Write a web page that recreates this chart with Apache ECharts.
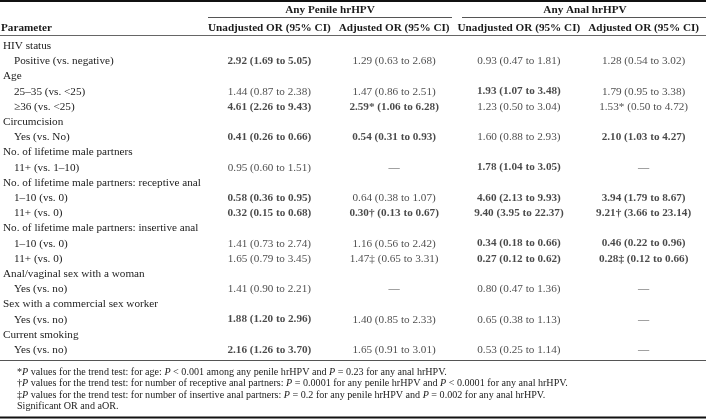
<!DOCTYPE html>
<html><head><meta charset="utf-8">
<script src="https://cdn.jsdelivr.net/npm/echarts@6/dist/echarts.min.js"></script>
<style>html,body{margin:0;padding:0;background:#fff}#c{width:706px;height:419px}</style>
</head><body><div id="c"></div>
<script>
// ---------- table content ----------
const groupHeaders = ['Any Penile hrHPV', 'Any Anal hrHPV'];
const columnHeaders = ['Unadjusted OR (95% CI)', 'Adjusted OR (95% CI)', 'Unadjusted OR (95% CI)', 'Adjusted OR (95% CI)'];
const parameterHeader = 'Parameter';
const parameters = [
  'HIV status', 'Positive (vs. negative)',
  'Age', '25–35 (vs. <25)', '≥36 (vs. <25)',
  'Circumcision', 'Yes (vs. No)',
  'No. of lifetime male partners', '11+ (vs. 1–10)',
  'No. of lifetime male partners: receptive anal', '1–10 (vs. 0)', '11+ (vs. 0)',
  'No. of lifetime male partners: insertive anal', '1–10 (vs. 0)', '11+ (vs. 0)',
  'Anal/vaginal sex with a woman', 'Yes (vs. no)',
  'Sex with a commercial sex worker', 'Yes (vs. no)',
  'Current smoking', 'Yes (vs. no)'
];
const indentLevels = [0,1, 0,1,1, 0,1, 0,1, 0,1,1, 0,1,1, 0,1, 0,1, 0,1];
const penileUnadjusted = ['', '2.92 (1.69 to 5.05)', '', '1.44 (0.87 to 2.38)', '4.61 (2.26 to 9.43)', '', '0.41 (0.26 to 0.66)', '', '0.95 (0.60 to 1.51)', '', '0.58 (0.36 to 0.95)', '0.32 (0.15 to 0.68)', '', '1.41 (0.73 to 2.74)', '1.65 (0.79 to 3.45)', '', '1.41 (0.90 to 2.21)', '', '1.88 (1.20 to 2.96)', '', '2.16 (1.26 to 3.70)'];
const penileUnadjustedSig = [0,1, 0,0,1, 0,1, 0,0, 0,1,1, 0,0,0, 0,0, 0,1, 0,1];
const penileAdjusted = ['', '1.29 (0.63 to 2.68)', '', '1.47 (0.86 to 2.51)', '2.59* (1.06 to 6.28)', '', '0.54 (0.31 to 0.93)', '', '—', '', '0.64 (0.38 to 1.07)', '0.30† (0.13 to 0.67)', '', '1.16 (0.56 to 2.42)', '1.47‡ (0.65 to 3.31)', '', '—', '', '1.40 (0.85 to 2.33)', '', '1.65 (0.91 to 3.01)'];
const penileAdjustedSig = [0,0, 0,0,1, 0,1, 0,0, 0,0,1, 0,0,0, 0,0, 0,0, 0,0];
const analUnadjusted = ['', '0.93 (0.47 to 1.81)', '', '1.93 (1.07 to 3.48)', '1.23 (0.50 to 3.04)', '', '1.60 (0.88 to 2.93)', '', '1.78 (1.04 to 3.05)', '', '4.60 (2.13 to 9.93)', '9.40 (3.95 to 22.37)', '', '0.34 (0.18 to 0.66)', '0.27 (0.12 to 0.62)', '', '0.80 (0.47 to 1.36)', '', '0.65 (0.38 to 1.13)', '', '0.53 (0.25 to 1.14)'];
const analUnadjustedSig = [0,0, 0,1,0, 0,0, 0,1, 0,1,1, 0,1,1, 0,0, 0,0, 0,0];
const analAdjusted = ['', '1.28 (0.54 to 3.02)', '', '1.79 (0.95 to 3.38)', '1.53* (0.50 to 4.72)', '', '2.10 (1.03 to 4.27)', '', '—', '', '3.94 (1.79 to 8.67)', '9.21† (3.66 to 23.14)', '', '0.46 (0.22 to 0.96)', '0.28‡ (0.12 to 0.66)', '', '—', '', '—', '', '—'];
const analAdjustedSig = [0,0, 0,0,0, 0,1, 0,0, 0,1,1, 0,1,1, 0,0, 0,0, 0,0];
const footnotes = [
  '*{i|P} values for the trend test: for age: {i|P} < 0.001 among any penile hrHPV and {i|P} = 0.23 for any anal hrHPV.',
  '†{i|P} values for the trend test: for number of receptive anal partners: {i|P} = 0.0001 for any penile hrHPV and {i|P} < 0.0001 for any anal hrHPV.',
  '‡{i|P} values for the trend test: for number of insertive anal partners: {i|P} = 0.2 for any penile hrHPV and {i|P} = 0.002 for any anal hrHPV.',
  'Significant OR and aOR.'
];

// ---------- style / layout ----------
const FONT = '"Liberation Serif", "DejaVu Serif", serif';
const FS = 11.2;
const FN = 10.1;
const INK = '#1b1b1b';
const W = 706;
const GRID = {left: 205, right: -3, top: 46, bottom: 69};

const columns = [
  [penileUnadjusted, penileUnadjustedSig],
  [penileAdjusted, penileAdjustedSig],
  [analUnadjusted, analUnadjustedSig],
  [analAdjusted, analAdjustedSig]
];
const cells = [];
columns.forEach(([vals, sig], c) => {
  vals.forEach((t, r) => {
    if (t) cells.push({value: [c, r, t], label: {fontWeight: sig[r] ? 'bold' : 'normal'}});
  });
});

const chart = echarts.init(document.getElementById('c'), null, {renderer: 'canvas'});
const hLine = (x1, x2, y, w, col) => ({type: 'line', shape: {x1, y1: y, x2, y2: y}, style: {stroke: col, lineWidth: w}, silent: true});
chart.setOption({
  animation: false,
  backgroundColor: '#fff',
  grid: GRID,
  xAxis: {type: 'category', data: columnHeaders, position: 'top',
    axisLine: {show: false}, axisTick: {show: false}, splitLine: {show: false},
    axisLabel: {interval: 0, margin: GRID.top - 28, verticalAlign: 'middle', fontFamily: FONT, fontSize: FS, fontWeight: 'bold', color: INK}},
  yAxis: {type: 'category', data: parameters, inverse: true, boundaryGap: false,
    axisLine: {show: false}, axisTick: {show: false}, splitLine: {show: false},
    axisLabel: {interval: 0, margin: GRID.left - 1, align: 'left', hideOverlap: false,
      formatter: (v, i) => (indentLevels[i] ? '{s|' : '{h|') + parameters[i] + '}',
      rich: {
        h: {fontFamily: FONT, fontSize: FS, color: INK},
        s: {fontFamily: FONT, fontSize: FS, color: INK, padding: [0, 0, 0, 11]}
      }}},
  series: [{
    type: 'scatter', symbolSize: 0, data: cells, silent: true,
    label: {show: true, position: 'inside', formatter: p => p.value[2], fontFamily: FONT, fontSize: FS, color: INK}
  }],
  graphic: [
    hLine(0, W, 1, 2, '#111'),
    {type: 'text', x: 330, y: 10, style: {text: groupHeaders[0], font: 'bold ' + FS + 'px ' + FONT, fill: INK, align: 'center', verticalAlign: 'middle'}},
    {type: 'text', x: 585, y: 10, style: {text: groupHeaders[1], font: 'bold ' + FS + 'px ' + FONT, fill: INK, align: 'center', verticalAlign: 'middle'}},
    hLine(208, 452, 17.5, 1, '#555'),
    hLine(462, W, 17.5, 1, '#555'),
    {type: 'text', x: 1, y: 28, style: {text: parameterHeader, font: 'bold ' + FS + 'px ' + FONT, fill: INK, align: 'left', verticalAlign: 'middle'}},
    hLine(0, W, 35.5, 1, '#666'),
    hLine(0, W, 360.5, 1.2, '#555'),
    ...footnotes.map((t, k) => ({type: 'text', x: 17, y: 372 + k * 11.5,
      style: {text: t, fontFamily: FONT, fontSize: FN, fill: INK, align: 'left', verticalAlign: 'middle',
        rich: {i: {fontFamily: FONT, fontSize: FN, fontStyle: 'italic', fill: INK}}}})),
    hLine(0, W, 417.5, 2, '#111')
  ]
});
</script></body></html>
